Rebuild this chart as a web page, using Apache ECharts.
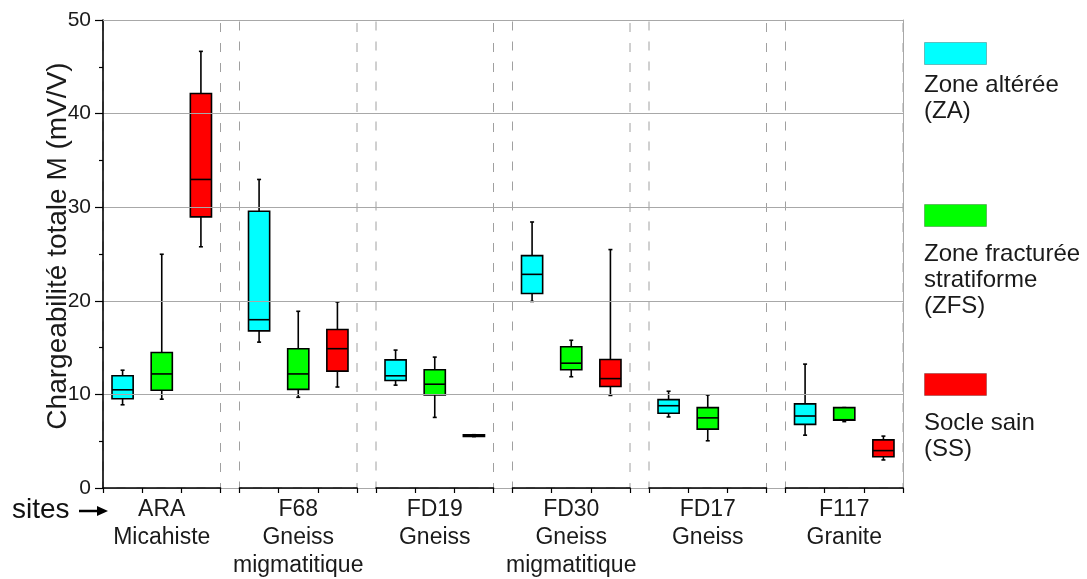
<!DOCTYPE html>
<html>
<head>
<meta charset="utf-8">
<script src="https://cdn.jsdelivr.net/npm/echarts@6/dist/echarts.min.js"></script>
<style>
  html, body { margin: 0; padding: 0; background: #fff; }
  #main { width: 1087px; height: 579px; }
</style>
</head>
<body>
<div id="main"></div>
<script>
// sites et lithologie (axe des x, découpé en 6 blocs)
const sites = ['ARA', 'F68', 'FD19', 'FD30', 'FD17', 'F117']
const rocks = ['Micahiste', 'Gneiss\nmigmatitique', 'Gneiss', 'Gneiss\nmigmatitique', 'Gneiss', 'Granite']

// zones (légende)
const zones = ['ZA', 'ZFS', 'SS']
const zoneLabels = ['Zone altérée\n(ZA)', 'Zone fracturée\nstratiforme\n(ZFS)', 'Socle sain\n(SS)']
const zoneColors = ['#00ffff', '#00ff00', '#ff0000']

// boîtes : [min, q1, médiane, q3, max] par site
const zaBoxes = [
  [8.9, 9.55, 10.5, 12.0, 12.6],
  [15.6, 16.8, 18.0, 29.6, 33.0],
  [11.0, 11.5, 12.0, 13.7, 14.75],
  [19.95, 20.8, 22.85, 24.85, 28.45],
  [7.6, 8.0, 8.8, 9.45, 10.35],
  [5.65, 6.8, 7.7, 9.0, 13.25]
]
const zfsBoxes = [
  [9.5, 10.45, 12.2, 14.5, 25.0],
  [9.7, 10.55, 12.2, 14.9, 18.9],
  [7.55, 9.95, 11.1, 12.65, 14.0],
  [11.9, 12.65, 13.35, 15.1, 15.8],
  [5.05, 6.3, 7.5, 8.6, 9.95],
  [7.1, 7.25, 7.3, 8.6, 8.6]
]
const ssBoxes = [
  [25.8, 29.0, 33.0, 42.2, 46.7],
  [10.8, 12.5, 14.9, 16.95, 19.9],
  [5.5, 5.5, 5.6, 5.7, 5.7],
  [9.9, 10.85, 11.7, 13.75, 25.5],
  null,
  [3.0, 3.35, 4.0, 5.15, 5.55]
]
const boxesByZone = [zaBoxes, zfsBoxes, ssBoxes]

// axe des y
const yMin = 0
const yMax = 50
const yStep = 10
const yName = 'Chargeabilité totale M (mV/V)'

const font = "'Liberation Sans', Arial, sans-serif"
const plotLeft = 103
const plotTop = 20
const plotW = 800
const plotH = 468
const segGap = 19
const segW = (plotW - (sites.length - 1) * segGap) / sites.length

function renderBox (params, api) {
  const x = api.value(0)
  const v = [1, 2, 3, 4, 5].map(i => api.value(i))
  const band = api.coord([1, 0])[0] - api.coord([0, 0])[0]
  const hw = band * 0.27
  const cap = 2
  const color = zoneColors[x]
  const p = v.map(val => api.coord([x, val]))
  const cx = p[0][0]
  const line = { stroke: '#000', lineWidth: 1.6 }
  return {
    type: 'group',
    children: [
      { type: 'line', shape: { x1: cx, y1: p[4][1], x2: cx, y2: p[3][1] }, style: line },
      { type: 'line', shape: { x1: cx, y1: p[1][1], x2: cx, y2: p[0][1] }, style: line },
      { type: 'line', shape: { x1: cx - cap, y1: p[4][1], x2: cx + cap, y2: p[4][1] }, style: line },
      { type: 'line', shape: { x1: cx - cap, y1: p[0][1], x2: cx + cap, y2: p[0][1] }, style: line },
      { type: 'rect', shape: { x: cx - hw, y: p[3][1], width: hw * 2, height: p[1][1] - p[3][1] }, style: { fill: color, stroke: '#000', lineWidth: 1.6 } },
      { type: 'line', shape: { x1: cx - hw, y1: p[2][1], x2: cx + hw, y2: p[2][1] }, style: line }
    ]
  }
}

const grids = [{ left: plotLeft, top: plotTop, width: plotW, height: plotH, outerBoundsMode: 'none' }]
const xAxes = [{
  gridIndex: 0,
  type: 'value',
  min: 0,
  max: 1,
  position: 'top',
  z: 10,
  axisLine: { show: true, onZero: false, lineStyle: { color: '#a8a8a8', width: 1 } },
  axisTick: { show: false },
  axisLabel: { show: false },
  splitLine: { show: false }
}]
const yAxes = [
  {
    gridIndex: 0,
    type: 'value',
    min: yMin,
    max: yMax,
    interval: yStep,
    z: 10,
    name: yName,
    nameLocation: 'middle',
    nameGap: 31,
    nameMoveOverlap: false,
    nameTextStyle: { fontSize: 28, color: '#1a1a1a', fontFamily: font, padding: [0, 0, 0, 16] },
    axisLine: { show: true, onZero: false, lineStyle: { color: '#000', width: 1.6 } },
    axisTick: { show: true, length: 8, lineStyle: { color: '#000', width: 1.2 } },
    minorTick: { show: true, splitNumber: 2, length: 4, lineStyle: { color: '#000', width: 1.2 } },
    axisLabel: { fontSize: 21, color: '#1a1a1a', fontFamily: font, margin: 12 },
    splitLine: { show: true, lineStyle: { color: '#a8a8a8', width: 1 } }
  },
  {
    gridIndex: 0,
    type: 'value',
    min: yMin,
    max: yMax,
    position: 'right',
    z: 10,
    axisLine: { show: true, onZero: false, lineStyle: { color: '#a8a8a8', width: 1 } },
    axisTick: { show: false },
    axisLabel: { show: false },
    splitLine: { show: false }
  }
]
const series = []

sites.forEach((site, i) => {
  const g = i + 1
  // le bord haut en pointillés tombe sous la ligne pleine de 50
  grids.push({
    left: plotLeft + i * (segW + segGap),
    top: plotTop + 0.5,
    width: segW,
    height: plotH - 0.5,
    outerBoundsMode: 'none',
    show: true,
    backgroundColor: 'transparent',
    borderColor: '#a0a0a0',
    borderWidth: 1,
    borderType: [9, 11]
  })
  xAxes.push({
    gridIndex: g,
    type: 'category',
    data: zones,
    boundaryGap: true,
    z: 10,
    name: site + '\n' + rocks[i],
    nameLocation: 'middle',
    nameGap: 8,
    nameMoveOverlap: false,
    nameTextStyle: { fontSize: 23, lineHeight: 28, color: '#1a1a1a', fontFamily: font },
    axisLine: { show: true, onZero: false, lineStyle: { color: '#000', width: 1.6 } },
    axisTick: { show: true, length: 5, lineStyle: { color: '#000', width: 1.2 } },
    axisLabel: { show: false },
    splitLine: { show: false }
  })
  yAxes.push({ gridIndex: g, type: 'value', min: yMin, max: yMax, show: false })

  const data = []
  boxesByZone.forEach((boxes, z) => {
    if (boxes[i]) data.push([z].concat(boxes[i]))
  })
  series.push({
    name: site,
    type: 'custom',
    coordinateSystem: 'cartesian2d',
    xAxisIndex: xAxes.length - 1,
    yAxisIndex: yAxes.length - 1,
    renderItem: renderBox,
    encode: { x: 0, y: [1, 2, 3, 4, 5] },
    data: data,
    z: 3
  })
})

// légende à droite
const legendItems = []
const legendTops = [42, 204, 373]
zoneLabels.forEach((label, z) => {
  legendItems.push({
    type: 'rect',
    left: 924,
    top: legendTops[z],
    shape: { width: 62, height: 22 },
    style: { fill: zoneColors[z], stroke: 'rgba(0,0,0,0.25)', lineWidth: 1 }
  })
  legendItems.push({
    type: 'text',
    left: 924,
    top: legendTops[z] + (z === 0 ? 30 : 37),
    style: { text: label, font: '24px ' + font, fill: '#1a1a1a', lineHeight: 26 }
  })
})

// « sites → »
legendItems.push({
  type: 'text',
  left: 12,
  top: 496,
  style: { text: 'sites', font: '28px ' + font, fill: '#111' }
})
legendItems.push({
  type: 'line',
  shape: { x1: 79, y1: 511, x2: 100, y2: 511 },
  style: { stroke: '#000', lineWidth: 2.5 }
})
legendItems.push({
  type: 'polygon',
  shape: { points: [[108, 511], [97, 506], [97, 516]] },
  style: { fill: '#000' }
})

const chart = echarts.init(document.getElementById('main'))
chart.setOption({
  animation: false,
  backgroundColor: '#fff',
  textStyle: { fontFamily: font },
  grid: grids,
  xAxis: xAxes,
  yAxis: yAxes,
  series: series,
  graphic: legendItems
})
</script>
</body>
</html>
